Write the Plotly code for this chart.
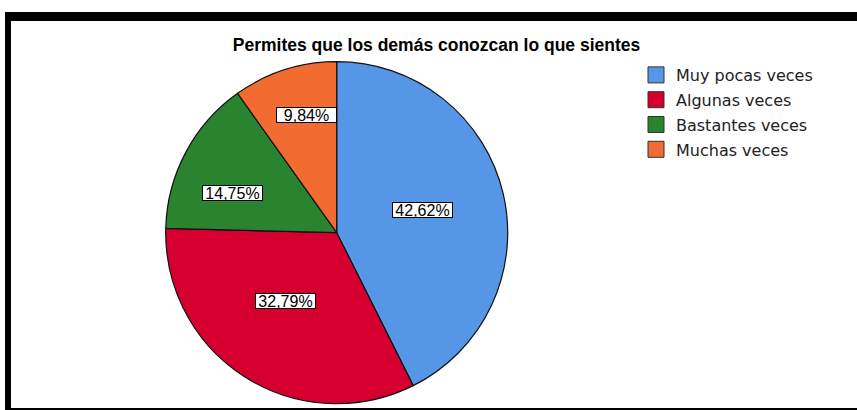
import math
import plotly.graph_objects as go

W, H = 857, 410

TITLE = "Permites que los demás conozcan lo que sientes"
categories = ["Muy pocas veces", "Algunas veces", "Bastantes veces", "Muchas veces"]
values = [42.62, 32.79, 14.75, 9.84]
label_texts = ["42,62%", "32,79%", "14,75%", "9,84%"]

colors = ["#5596E6", "#D5002F", "#2A832E", "#F26B30"]
# label placement style: distance as fraction of radius, angular nudge in degrees
label_r = [0.52, 0.50, 0.65, 0.71]
label_dang = [-1.3, 4.4, -7.3, 3.5]

# pie geometry in pixels
CX, CY, R = 336.7, 232.7, 171.0

fig = go.Figure()
fig.add_trace(go.Pie(
    labels=categories, values=values,
    sort=False, direction="clockwise", rotation=0,
    marker=dict(colors=colors, line=dict(color="#111111", width=1.2)),
    textinfo="none", hoverinfo="label+percent",
    showlegend=False,
    domain=dict(x=[(CX - R) / W, (CX + R) / W],
                y=[(H - CY - R) / H, (H - CY + R) / H]),
))

# legend via dummy scatter traces
for i, (c, col) in enumerate(zip(categories, colors)):
    fig.add_trace(go.Scatter(
        x=[None], y=[None], mode="markers", name=c,
        legendgroup=str(i),
        marker=dict(symbol="square", size=20, color=col,
                    line=dict(color="#333333", width=1)),
    ))

# label boxes placed from the data angles
total = sum(values)
cum = 0.0
annotations = []
for v, t, rf, da in zip(values, label_texts, label_r, label_dang):
    mid = (cum + v / 2) / total * 2 * math.pi + math.radians(da)
    cum += v
    px = CX + rf * R * math.sin(mid)
    py = CY - rf * R * math.cos(mid)
    annotations.append(dict(
        x=px / W, y=1 - py / H, xref="paper", yref="paper",
        text=t, showarrow=False,
        font=dict(family="Liberation Sans, Arial", size=16, color="#000000"),
        bgcolor="#FFFFFF", bordercolor="#000000", borderwidth=1, borderpad=0,
        width=59, height=14, xanchor="center", yanchor="middle",
    ))

# frame
shapes = [
    dict(type="rect", xref="paper", yref="paper", layer="below",
         x0=5 / W, x1=1.01, y0=0, y1=1 - 12 / H,
         fillcolor="#000000", line=dict(width=0)),
    dict(type="rect", xref="paper", yref="paper", layer="below",
         x0=11 / W, x1=1.01, y0=1 - 408 / H, y1=1 - 21 / H,
         fillcolor="#FFFFFF", line=dict(width=0)),
]

fig.update_layout(
    width=W, height=H,
    margin=dict(l=0, r=0, t=0, b=0),
    paper_bgcolor="#FFFFFF", plot_bgcolor="rgba(0,0,0,0)",
    xaxis=dict(visible=False), yaxis=dict(visible=False),
    title=dict(text="<b>" + TITLE + "</b>", x=436.5 / W, y=1 - 45 / H,
               xanchor="center", yanchor="middle", xref="container", yref="container",
               font=dict(family="Liberation Sans, Arial", size=17.5, color="#000000")),
    legend=dict(x=636 / W, y=1 - 58 / H, xanchor="left", yanchor="top",
                font=dict(family="DejaVu Sans", size=16, color="#222222"),
                tracegroupgap=1, itemwidth=30, bgcolor="rgba(0,0,0,0)"),
    annotations=annotations,
    shapes=shapes,
)

fig.write_html("out.html", config={"displayModeBar": False},
               post_script="document.body.style.margin='0';document.body.style.padding='0';")
